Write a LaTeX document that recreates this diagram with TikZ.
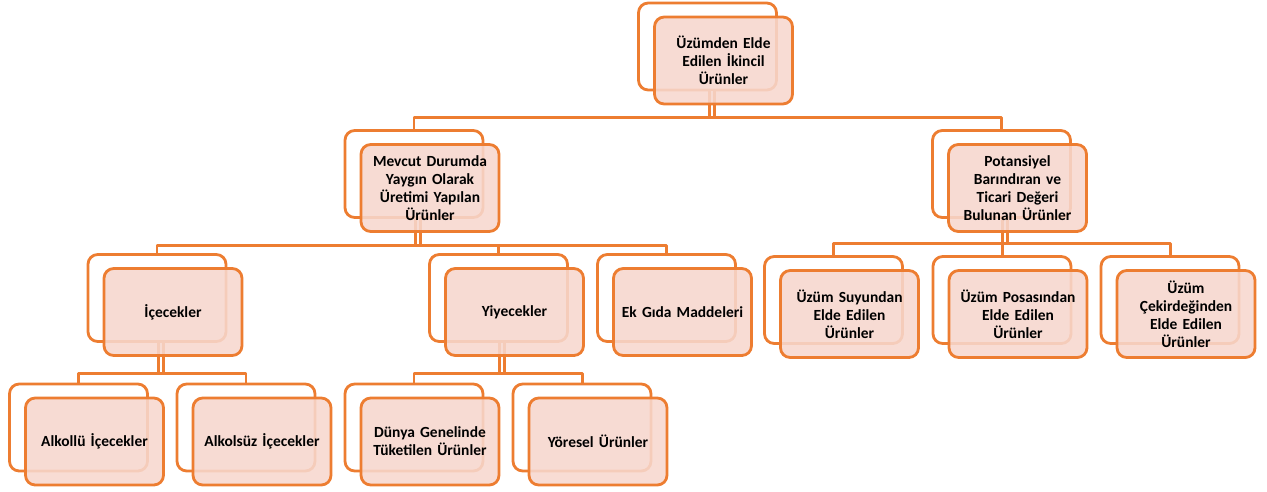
\documentclass[tikz,border=0pt]{standalone}
\usepackage{fontspec}
\setmainfont{Carlito}
\usetikzlibrary{positioning,calc}

\definecolor{turuncu}{HTML}{ED7D31}
\definecolor{pembe}{HTML}{F7D7CE}

\tikzset{
  arka/.style={draw=turuncu,line width=1.6pt,fill=white,rounded corners=5.5pt,
    minimum width=2.76cm,minimum height=1.74cm,inner sep=0pt},
  kutu/.style={arka,fill=pembe,fill opacity=0.88,text opacity=1,
    font=\bfseries\fontsize{8.8}{10.2}\selectfont,align=center,text width=2.5cm},
  bag/.style={draw=turuncu,line width=1.7pt},
  cift/.style={draw=turuncu,line width=1.3pt,double=white,double distance=1.6pt},
}

\begin{document}
\begin{tikzpicture}[x=0.02cm,y=-0.02cm,line join=round]
  \useasboundingbox (0,0) rectangle (1267,491);

  % arkadaki kutular
  \node[arka] (kokA) at (707.5,46.5) {};
  \node[arka] (mevA) at (414,174) {};
  \node[arka] (potA) at (1001.5,174) {};
  \node[arka] (iceA) at (157,298) {};
  \node[arka] (yiyA) at (498.5,298) {};
  \node[arka] (ekA)  at (666.5,298) {};
  \node[arka] (suA)  at (833.5,300) {};
  \node[arka] (posA) at (1002,300) {};
  \node[arka] (cekA) at (1170,300) {};
  \node[arka] (alkA) at (78.5,427.5) {};
  \node[arka] (alsA) at (246,427.5) {};
  \node[arka] (dunA) at (414,427.5) {};
  \node[arka] (yorA) at (582,427.5) {};

  % baglantilar
  \coordinate (kokC) at (712,117);
  \coordinate (mevC) at (418,245);
  \coordinate (potC) at (1005,243);
  \coordinate (iceC) at (161,373);
  \coordinate (yiyC) at (502,373);

  \draw[cift] (kokA.south -| kokC) -- (kokC);
  \draw[cift] (mevA.south -| mevC) -- (mevC);
  \draw[cift] (potA.south -| potC) -- (potC);
  \draw[cift] (iceA.south -| iceC) -- (iceC);
  \draw[cift] (yiyA.south -| yiyC) -- (yiyC);

  \draw[bag] (mevA.north) |- (kokC) -| (potA.north);
  \draw[bag] (iceA.north) |- (mevC) -| (ekA.north);
  \draw[bag] (yiyA.north) -- (yiyA.north |- mevC);
  \draw[bag] (suA.north) |- (potC) -| (cekA.north);
  \draw[bag] (posA.north) -- (posA.north |- potC);
  \draw[bag] (alkA.north) |- (iceC) -| (alsA.north);
  \draw[bag] (dunA.north) |- (yiyC) -| (yorA.north);

  % ondeki kutular
  \node[kutu] (kok) at ([shift={(16,14)}]kokA) {Üzümden Elde\\Edilen İkincil\\Ürünler};
  \node[kutu] (mev) at ([shift={(16,14)}]mevA) {Mevcut Durumda\\Yaygın Olarak\\Üretimi Yapılan\\Ürünler};
  \node[kutu] (pot) at ([shift={(16,14)}]potA) {Potansiyel\\Barındıran ve\\Ticari Değeri\\Bulunan Ürünler};
  \node[kutu] (ice) at ([shift={(16,14)}]iceA) {İçecekler};
  \node[kutu] (yiy) at ([shift={(16,14)}]yiyA) {Yiyecekler};
  \node[kutu] (ek)  at ([shift={(16,14)}]ekA)  {Ek Gıda Maddeleri};
  \node[kutu] (su)  at ([shift={(16,14)}]suA)  {Üzüm Suyundan\\Elde Edilen\\Ürünler};
  \node[kutu] (pos) at ([shift={(16,14)}]posA) {Üzüm Posasından\\Elde Edilen\\Ürünler};
  \node[kutu] (cek) at ([shift={(16,14)}]cekA) {Üzüm\\Çekirdeğinden\\Elde Edilen\\Ürünler};
  \node[kutu] (alk) at ([shift={(16,14)}]alkA) {Alkollü İçecekler};
  \node[kutu] (als) at ([shift={(16,14)}]alsA) {Alkolsüz İçecekler};
  \node[kutu] (dun) at ([shift={(16,14)}]dunA) {Dünya Genelinde\\Tüketilen Ürünler};
  \node[kutu] (yor) at ([shift={(16,14)}]yorA) {Yöresel Ürünler};
\end{tikzpicture}
\end{document}
